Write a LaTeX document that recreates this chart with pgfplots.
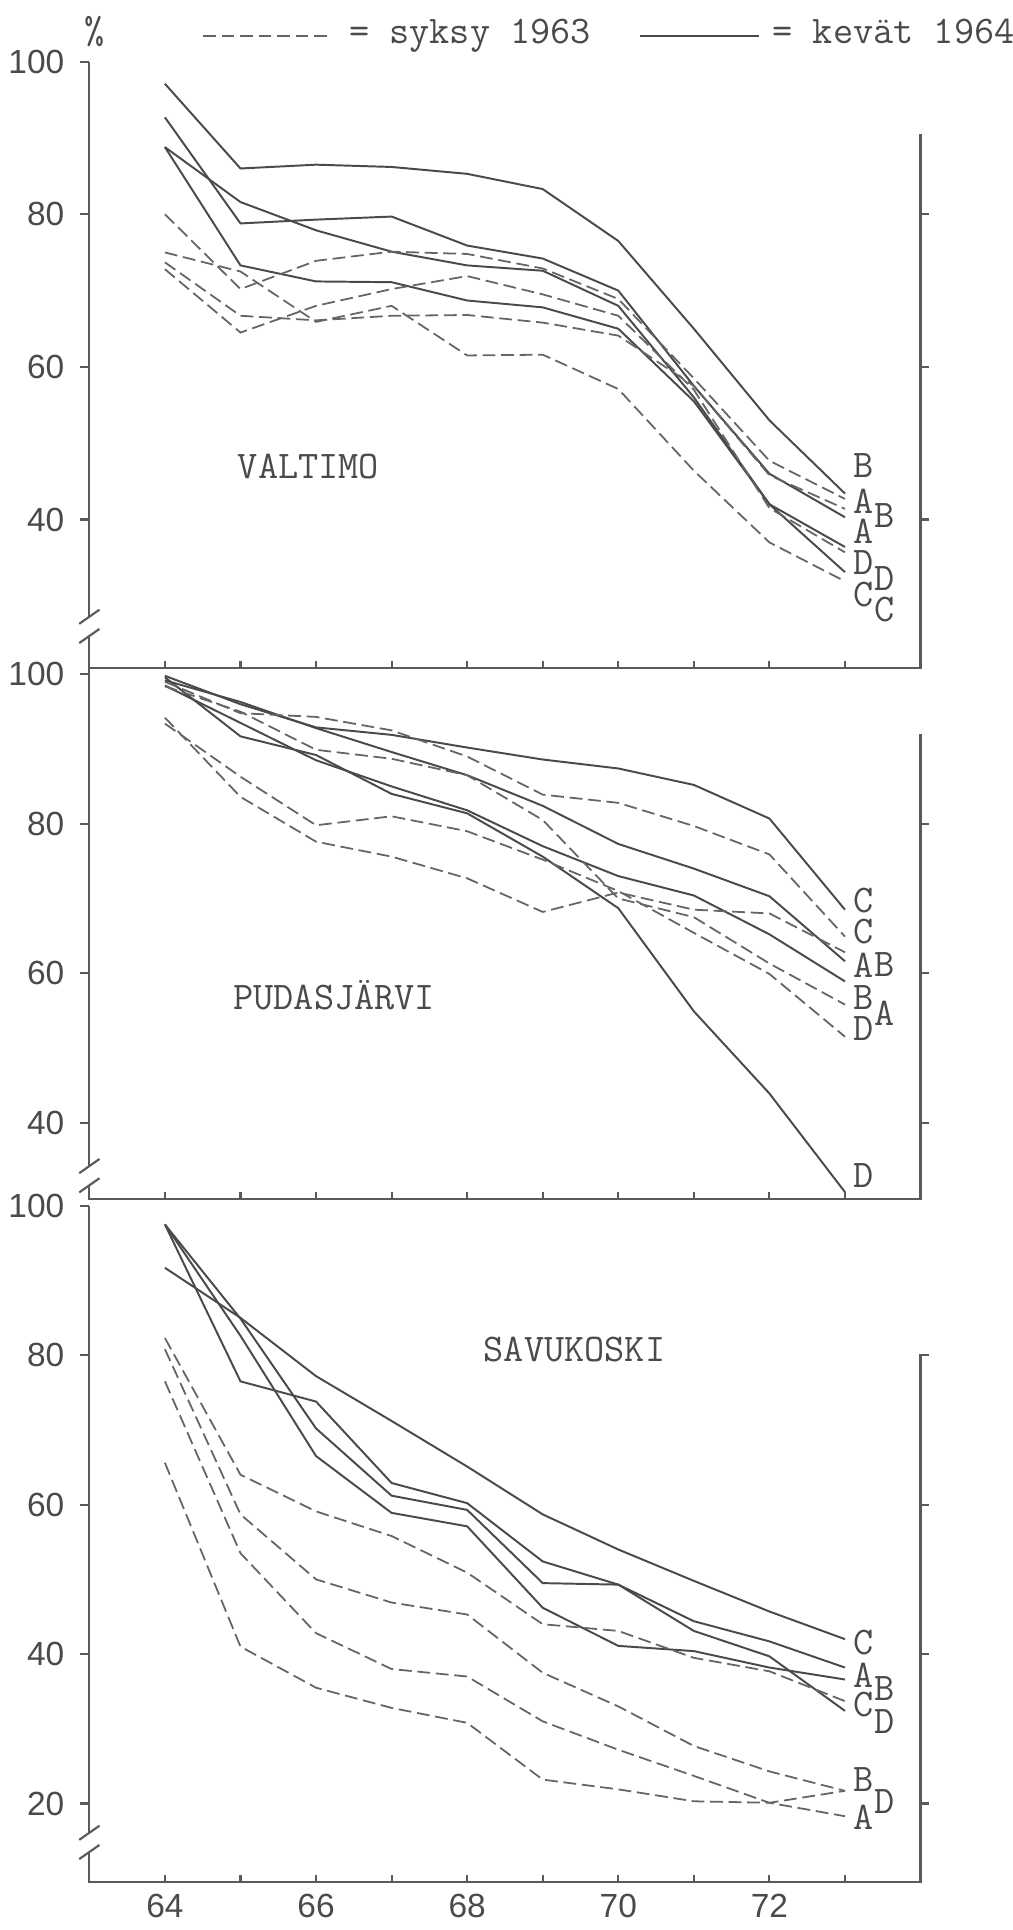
\documentclass[border=0pt]{standalone}
\usepackage{pgfplots}
\pgfplotsset{compat=1.18}
\usepackage{fontspec}
\setsansfont{Liberation Sans}
\definecolor{ink}{HTML}{4A4A4A}
\definecolor{axc}{HTML}{5A5A5A}
\newcommand{\tw}{\fontsize{11}{13}\selectfont\ttfamily}
\tikzset{
  sol/.style={ink, line width=0.55pt},
  das/.style={ink!85, line width=0.5pt, dash pattern=on 3.6pt off 1.6pt},
  axl/.style={axc, line width=0.6pt},
  lab/.style={font=\tw, text=ink, inner sep=0pt},
}
\pgfplotsset{
  panel/.style={
    x=0.74594cm, xmin=63, xmax=74,
    anchor=south west, clip=false,
    axis lines=left, axis line style={draw=none},
    tick align=outside, ytick pos=left,
    major tick length=2.5pt,
    ytick style={axc, line width=0.6pt},
    tick label style={font=\sffamily\fontsize{9.4}{11}\selectfont, text=ink},
    /pgf/number format/assume math mode=true,
    xtick=\empty,
    yticklabel style={xshift=-1pt},
  }
}
\begin{document}
\begin{tikzpicture}
\path[use as bounding box] (0,0) rectangle (10cm,19.053cm);
% legend
\node[lab, anchor=base] at (0.936cm,18.62cm) {\%};
\draw[das] (2.005cm,18.70cm) -- (3.257cm,18.70cm);
\node[lab, anchor=base west] at (3.439cm,18.62cm) {= syksy 1963};
\draw[sol] (6.319cm,18.70cm) -- (7.497cm,18.70cm);
\node[lab, anchor=base west] at (7.619cm,18.62cm) {= kevät 1964};

% ---------------- VALTIMO
\begin{axis}[panel, at={(0.8822cm,12.455cm)}, y=0.075336cm, ymin=20.5, ymax=100, ytick={40,60,80,100}]
\addplot[sol] coordinates {(64,97.1)(65,86.0)(66,86.5)(67,86.2)(68,85.3)(69,83.3)(70,76.5)(71,65.0)(72,53.0)(73,43.4)};
\addplot[sol] coordinates {(64,92.7)(65,78.8)(66,79.3)(67,79.7)(68,75.9)(69,74.2)(70,70.0)(71,57.5)(72,46.0)(73,40.3)};
\addplot[sol] coordinates {(64,88.8)(65,81.6)(66,77.9)(67,75.1)(68,73.3)(69,72.6)(70,68.0)(71,56.0)(72,42.0)(73,36.4)};
\addplot[sol] coordinates {(64,88.8)(65,73.3)(66,71.2)(67,71.1)(68,68.7)(69,67.8)(70,65.0)(71,55.5)(72,42.0)(73,33.1)};
\addplot[das] coordinates {(64,80.0)(65,70.2)(66,73.9)(67,75.1)(68,74.8)(69,72.9)(70,68.9)(71,58.5)(72,47.7)(73,42.7)};
\addplot[das] coordinates {(64,73.7)(65,66.7)(66,66.1)(67,66.7)(68,66.8)(69,65.8)(70,64.1)(71,57.5)(72,45.8)(73,41.4)};
\addplot[das] coordinates {(64,72.8)(65,64.5)(66,68.0)(67,70.2)(68,71.9)(69,69.5)(70,66.7)(71,57.0)(72,41.5)(73,35.7)};
\addplot[das] coordinates {(64,75.0)(65,72.5)(66,65.9)(67,68.0)(68,61.5)(69,61.6)(70,57.1)(71,46.4)(72,37.0)(73,31.9)};
\draw[axl] (axis cs:63,100) -- ([yshift=0.095cm]axis cs:63,26);
\draw[axl] ([yshift=-0.095cm]axis cs:63,26) -- (axis cs:63,20.5) -- (axis cs:74,20.5) -- (axis cs:74,90.5);
\draw[axl] ([xshift=-0.1cm,yshift=0.025cm]axis cs:63,26) -- ([xshift=0.1cm,yshift=0.165cm]axis cs:63,26);
\draw[axl] ([xshift=-0.1cm,yshift=-0.165cm]axis cs:63,26) -- ([xshift=0.1cm,yshift=-0.025cm]axis cs:63,26);
\pgfplotsinvokeforeach{64,65,66,67,68,69,70,71,72,73}{\draw[axl] (axis cs:#1,20.5) -- ([yshift=0.07cm]axis cs:#1,20.5);}
\pgfplotsinvokeforeach{40,60,80}{\draw[axl] (axis cs:74,#1) -- ([xshift=0.085cm]axis cs:74,#1);}
\node[lab] at (axis cs:65.9,46.9) {VALTIMO};
\node[lab] at (axis cs:73.25,47.1) {B};
\node[lab] at (axis cs:73.25,42.4) {A};
\node[lab] at (axis cs:73.53,40.5) {B};
\node[lab] at (axis cs:73.25,38.5) {A};
\node[lab] at (axis cs:73.25,34.4) {D};
\node[lab] at (axis cs:73.53,32.3) {D};
\node[lab] at (axis cs:73.25,30.2) {C};
\node[lab] at (axis cs:73.53,28.2) {C};
\end{axis}

% ---------------- PUDASJARVI
\begin{axis}[panel, at={(0.8822cm,7.2177cm)}, y=0.073757cm, ymin=29.8, ymax=100.8, ytick={40,60,80,100}]
\addplot[sol] coordinates {(64,99.8)(65,96.0)(66,92.9)(67,91.9)(68,90.2)(69,88.6)(70,87.4)(71,85.2)(72,80.7)(73,68.5)};
\addplot[sol] coordinates {(64,99.2)(65,96.3)(66,92.8)(67,89.6)(68,86.5)(69,82.4)(70,77.3)(71,74.0)(72,70.3)(73,61.6)};
\addplot[sol] coordinates {(64,98.5)(65,93.5)(66,88.5)(67,85.0)(68,81.8)(69,77.0)(70,73.0)(71,70.4)(72,65.2)(73,58.9)};
\addplot[sol] coordinates {(64,99.6)(65,91.7)(66,89.2)(67,84.0)(68,81.4)(69,75.6)(70,68.7)(71,54.9)(72,43.9)(73,30.7)};
\addplot[das] coordinates {(64,99.0)(65,94.8)(66,94.3)(67,92.5)(68,89.0)(69,83.9)(70,82.8)(71,79.7)(72,75.9)(73,64.9)};
\addplot[das] coordinates {(64,98.4)(65,95.0)(66,89.9)(67,88.7)(68,86.5)(69,80.5)(70,70.0)(71,67.5)(72,61.3)(73,55.8)};
\addplot[das] coordinates {(64,93.4)(65,86.3)(66,79.8)(67,81.0)(68,79.0)(69,75.2)(70,71.0)(71,65.4)(72,59.9)(73,51.5)};
\addplot[das] coordinates {(64,94.2)(65,83.6)(66,77.6)(67,75.6)(68,72.7)(69,68.2)(70,70.8)(71,68.5)(72,68.0)(73,62.8)};
\draw[axl] (axis cs:63,100.8) -- ([yshift=0.095cm]axis cs:63,32.9);
\draw[axl] ([yshift=-0.095cm]axis cs:63,32.9) -- (axis cs:63,29.8) -- (axis cs:74,29.8) -- (axis cs:74,92);
\draw[axl] ([xshift=-0.1cm,yshift=0.025cm]axis cs:63,32.9) -- ([xshift=0.1cm,yshift=0.165cm]axis cs:63,32.9);
\draw[axl] ([xshift=-0.1cm,yshift=-0.165cm]axis cs:63,32.9) -- ([xshift=0.1cm,yshift=-0.025cm]axis cs:63,32.9);
\pgfplotsinvokeforeach{64,65,66,67,68,69,70,71,72,73}{\draw[axl] (axis cs:#1,29.8) -- ([yshift=0.07cm]axis cs:#1,29.8);}
\pgfplotsinvokeforeach{40,60,80}{\draw[axl] (axis cs:74,#1) -- ([xshift=0.085cm]axis cs:74,#1);}
\node[lab] at (axis cs:66.24,57.1) {PUDASJÄRVI};
\node[lab] at (axis cs:73.25,69.7) {C};
\node[lab] at (axis cs:73.25,65.6) {C};
\node[lab] at (axis cs:73.25,61.1) {A};
\node[lab] at (axis cs:73.53,61.1) {B};
\node[lab] at (axis cs:73.25,56.8) {B};
\node[lab] at (axis cs:73.53,54.6) {A};
\node[lab] at (axis cs:73.25,52.6) {D};
\node[lab] at (axis cs:73.25,32.9) {D};
\end{axis}

% ---------------- SAVUKOSKI
\begin{axis}[panel, at={(0.8822cm,0.4739cm)}, y=0.073757cm, ymin=9.5, ymax=100, ytick={20,40,60,80,100},
  xtick={64,66,68,70,72}, xtick style={draw=none}, xticklabel style={yshift=2.5pt}]
\addplot[sol] coordinates {(64,91.7)(65,85.0)(66,77.2)(67,71.2)(68,65.1)(69,58.7)(70,54.0)(71,49.8)(72,45.7)(73,42.0)};
\addplot[sol] coordinates {(64,97.5)(65,76.5)(66,73.8)(67,62.9)(68,60.2)(69,52.4)(70,49.3)(71,44.4)(72,41.7)(73,38.2)};
\addplot[sol] coordinates {(64,97.5)(65,84.9)(66,70.2)(67,61.2)(68,59.3)(69,49.5)(70,49.3)(71,43.1)(72,39.7)(73,32.4)};
\addplot[sol] coordinates {(64,97.5)(65,82.6)(66,66.5)(67,58.9)(68,57.1)(69,46.2)(70,41.1)(71,40.4)(72,38.2)(73,36.6)};
\addplot[das] coordinates {(64,82.3)(65,64.0)(66,59.1)(67,55.8)(68,50.9)(69,44.0)(70,43.1)(71,39.5)(72,37.7)(73,33.7)};
\addplot[das] coordinates {(64,80.8)(65,58.7)(66,50.0)(67,46.9)(68,45.3)(69,37.5)(70,33.0)(71,27.7)(72,24.3)(73,21.7)};
\addplot[das] coordinates {(64,76.5)(65,53.5)(66,42.8)(67,38.0)(68,37.0)(69,31.0)(70,27.2)(71,23.7)(72,20.1)(73,18.3)};
\addplot[das] coordinates {(64,65.6)(65,41.0)(66,35.5)(67,32.8)(68,30.8)(69,23.2)(70,21.9)(71,20.3)(72,20.1)(73,21.7)};
\draw[axl] (axis cs:63,100) -- ([yshift=0.095cm]axis cs:63,14.8);
\draw[axl] ([yshift=-0.095cm]axis cs:63,14.8) -- (axis cs:63,9.5) -- (axis cs:74,9.5) -- (axis cs:74,80) -- ([xshift=0.085cm]axis cs:74,80);
\draw[axl] ([xshift=-0.1cm,yshift=0.025cm]axis cs:63,14.8) -- ([xshift=0.1cm,yshift=0.165cm]axis cs:63,14.8);
\draw[axl] ([xshift=-0.1cm,yshift=-0.165cm]axis cs:63,14.8) -- ([xshift=0.1cm,yshift=-0.025cm]axis cs:63,14.8);
\pgfplotsinvokeforeach{64,65,66,67,68,69,70,71,72,73}{\draw[axl] (axis cs:#1,9.5) -- ([yshift=0.07cm]axis cs:#1,9.5);}
\pgfplotsinvokeforeach{20,40,60}{\draw[axl] (axis cs:74,#1) -- ([xshift=0.085cm]axis cs:74,#1);}
\node[lab] at (axis cs:69.42,80.7) {SAVUKOSKI};
\node[lab] at (axis cs:73.25,41.5) {C};
\node[lab] at (axis cs:73.25,37.2) {A};
\node[lab] at (axis cs:73.53,35.4) {B};
\node[lab] at (axis cs:73.25,33.3) {C};
\node[lab] at (axis cs:73.53,31.0) {D};
\node[lab] at (axis cs:73.25,23.2) {B};
\node[lab] at (axis cs:73.53,20.3) {D};
\node[lab] at (axis cs:73.25,18.1) {A};
\end{axis}
\end{tikzpicture}
\end{document}
